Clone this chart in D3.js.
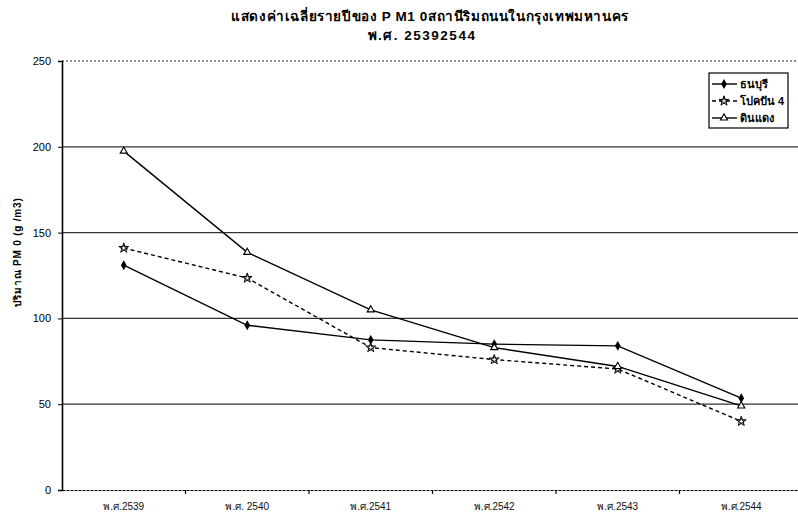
<!DOCTYPE html>
<html>
<head>
<meta charset="utf-8">
<title>PM10</title>
<script src="https://d3js.org/d3.v7.min.js"></script>
<style>
    body { margin: 0; background: #fff; }
    svg { display: block; font-family: "Liberation Sans", Arial, sans-serif; }
</style>
</head>
<body>
<div id="chart"></div>
<script>
    // years on the x axis
    const years = ["พ.ศ.2539", "พ.ศ. 2540", "พ.ศ.2541", "พ.ศ.2542", "พ.ศ.2543", "พ.ศ.2544"];
    // values (ug/m3)
    const thonburi = [131, 96, 87.5, 85, 84, 53.5];
    const pongpan = [141, 123.5, 83, 76, 70.5, 40];
    const dindaeng = [197.5, 138.5, 105, 83, 72, 49];
    const yTicks = [0, 50, 100, 150, 200, 250];

    const seriesNames = ["ธนบุรี", "โปคปัน 4", "ดินแดง"];
    const series = [
        { name: seriesNames[0], values: thonburi, dash: null, marker: "diamond" },
        { name: seriesNames[1], values: pongpan, dash: "4,3", marker: "star" },
        { name: seriesNames[2], values: dindaeng, dash: null, marker: "triangle" }
    ];

    const W = 798, H = 515;
    const svg = d3.select("#chart").append("svg").attr("width", W).attr("height", H);

    const mLeft = 62, mTop = 61, mBottom = 490;
    const x = d3.scaleBand().domain(years).range([mLeft, mLeft + 6 * 123.5]);
    const y = d3.scaleLinear().domain([0, 250]).range([mBottom, mTop]);

    // title
    svg.append("text").attr("x", 430).attr("y", 21).attr("text-anchor", "middle")
        .attr("font-size", 13.5).attr("font-weight", "bold").attr("letter-spacing", 0.6)
        .text("แสดงค่าเฉลี่ยรายปีของ P M1 0สถานีริมถนนในกรุงเทพมหานคร");
    svg.append("text").attr("x", 422).attr("y", 40).attr("text-anchor", "middle")
        .attr("font-size", 13.5).attr("font-weight", "bold").attr("letter-spacing", 1.5)
        .text("พ.ศ. 25392544");

    // gridlines
    svg.append("g").selectAll("line").data(yTicks.filter(d => d > 0 && d < 250)).join("line")
        .attr("x1", mLeft).attr("x2", W).attr("y1", d => y(d)).attr("y2", d => y(d))
        .attr("stroke", "#333").attr("stroke-width", 1.2);
    svg.append("line").attr("x1", mLeft).attr("x2", W).attr("y1", y(250)).attr("y2", y(250))
        .attr("stroke", "#222").attr("stroke-width", 1.2).attr("stroke-dasharray", "2,2");

    // y axis
    const yAxis = svg.append("g").attr("transform", `translate(${mLeft},0)`)
        .call(d3.axisLeft(y).tickValues(yTicks).tickSize(4).tickPadding(7));
    yAxis.select(".domain").attr("stroke", "#000").attr("stroke-width", 1.6);
    yAxis.selectAll("text").attr("font-size", 11).attr("fill", "#000");

    // x axis
    const xAxis = svg.append("g").attr("transform", `translate(0,${mBottom})`)
        .call(d3.axisBottom(x).tickSize(0).tickPadding(13));
    xAxis.select(".domain").attr("stroke", "#000").attr("stroke-width", 1.2).attr("stroke-dasharray", "3,1");
    xAxis.selectAll("text").attr("font-size", 10).attr("fill", "#111");
    xAxis.selectAll(".bound").data(years.slice(1)).join("line").attr("class", "bound")
        .attr("x1", d => x(d)).attr("x2", d => x(d)).attr("y1", 0).attr("y2", 4)
        .attr("stroke", "#000").attr("stroke-width", 1.2);

    // y axis title
    svg.append("text").attr("transform", "translate(21,252) rotate(-90)")
        .attr("text-anchor", "middle").attr("font-size", 10).attr("font-weight", "bold")
        .attr("letter-spacing", 0.8)
        .text("ปริมาณ PM 0  (g /m3)");

    const cx = d => x(d) + x.bandwidth() / 2;

    function drawMarker(g, type) {
        if (type === "diamond") {
            g.append("path").attr("d", d3.symbol(d3.symbolDiamond, 28)()).attr("fill", "#000");
        } else if (type === "triangle") {
            g.append("path").attr("d", d3.symbol(d3.symbolTriangle, 22)())
                .attr("fill", "#fff").attr("stroke", "#000").attr("stroke-width", 1.1);
        } else {
            g.append("path").attr("d", d3.symbol(d3.symbolStar, 30)())
                .attr("fill", "#fff").attr("stroke", "#000").attr("stroke-width", 1);
            g.append("path").attr("d", d3.symbol(d3.symbolCross, 14)())
                .attr("fill", "none").attr("stroke", "#000").attr("stroke-width", 0.7);
        }
    }

    const line = d3.line().x((d, i) => cx(years[i])).y(d => y(d));
    series.forEach(s => {
        svg.append("path").datum(s.values).attr("d", line)
            .attr("fill", "none").attr("stroke", "#000").attr("stroke-width", 1.4)
            .attr("stroke-dasharray", s.dash);
        s.values.forEach((v, i) => {
            const g = svg.append("g").attr("transform", `translate(${cx(years[i])},${y(v)})`);
            drawMarker(g, s.marker);
        });
    });

    // legend
    const lg = svg.append("g").attr("transform", "translate(709,73)");
    lg.append("rect").attr("width", 79).attr("height", 55)
        .attr("fill", "#fff").attr("stroke", "#000").attr("stroke-width", 1.2);
    series.forEach((s, i) => {
        const yy = 11 + i * 17;
        lg.append("line").attr("x1", 3).attr("x2", 28).attr("y1", yy).attr("y2", yy)
            .attr("stroke", "#000").attr("stroke-width", 1.4).attr("stroke-dasharray", s.dash);
        drawMarker(lg.append("g").attr("transform", `translate(15,${yy})`), s.marker);
        lg.append("text").attr("x", 31).attr("y", yy + 4).attr("font-size", 11).attr("font-weight", "bold")
            .text(s.name);
    });
</script>
</body>
</html>
